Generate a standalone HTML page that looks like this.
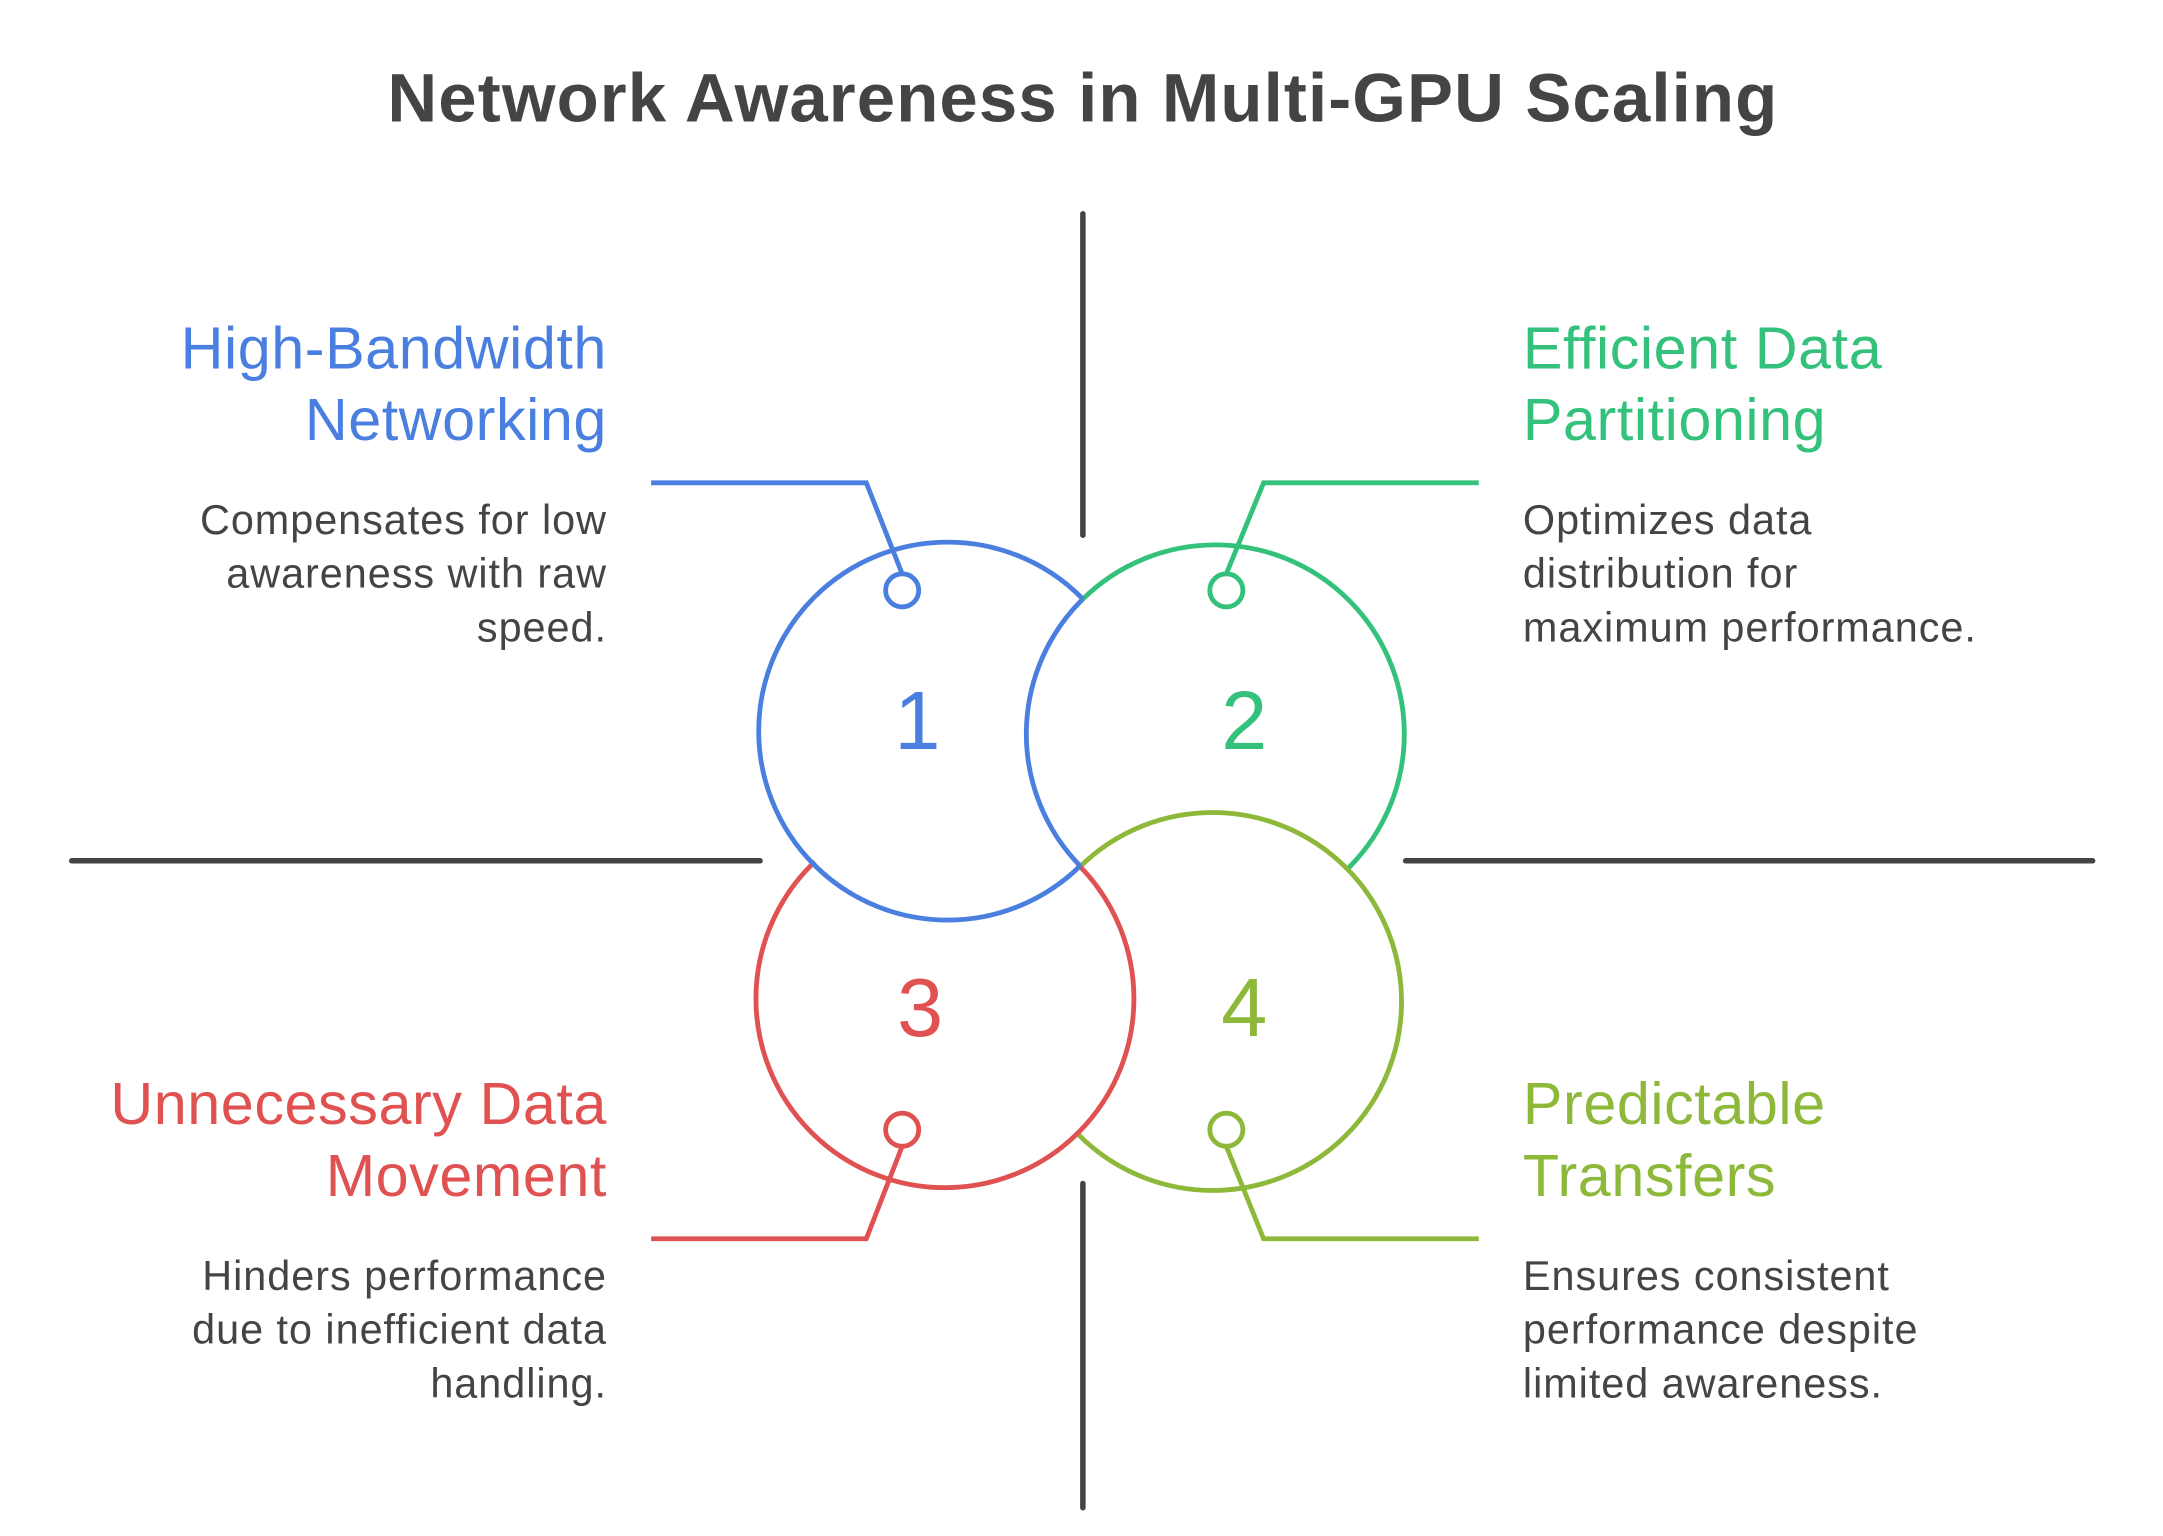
<!DOCTYPE html>
<html><head><meta charset="utf-8"><style>html,body{margin:0;padding:0;background:#fff}svg{display:block}</style></head>
<body>
<svg width="2163" height="1536" viewBox="0 0 1568 1113.5" xmlns="http://www.w3.org/2000/svg" font-family="'Liberation Sans', sans-serif">
<defs>
<clipPath id="in1"><circle cx="687" cy="530" r="137"/></clipPath>
<mask id="out2"><rect width="1568" height="1114" fill="#fff"/><circle cx="881" cy="532" r="137" fill="#000"/></mask>
</defs>
<rect width="1568" height="1114" fill="#fff"/>
<text x="785" y="88" text-anchor="middle" font-size="50" font-weight="bold" fill="#444" letter-spacing="0.8">Network Awareness in Multi-GPU Scaling</text>
<g stroke="#444" stroke-width="4" stroke-linecap="round">
<line x1="785" y1="155" x2="785" y2="388"/>
<line x1="785" y1="858" x2="785" y2="1093"/>
<line x1="52" y1="624" x2="551" y2="624"/>
<line x1="1019" y1="624" x2="1517" y2="624"/>
</g>
<g stroke-width="3.5">
<circle cx="881" cy="532" r="137" stroke="#33c17b" fill="#fff"/>
<circle cx="879" cy="726" r="137" stroke="#8db83a" fill="#fff"/>
<circle cx="685" cy="724" r="137" stroke="#e05252" fill="#fff"/>
<circle cx="687" cy="530" r="135" fill="#fff" stroke="none"/>
<circle cx="687" cy="530" r="137" stroke="#4a7fe0" fill="none" mask="url(#out2)"/>
<circle cx="881" cy="532" r="137" stroke="#4a7fe0" fill="none" clip-path="url(#in1)"/>
</g>
<g fill="none" stroke-width="3.5">
<polyline points="472,350 628,350 654,416" stroke="#4a7fe0"/>
<circle cx="654" cy="428" r="12" stroke="#4a7fe0" fill="#fff"/>
<polyline points="1072,350 916,350 889,416" stroke="#33c17b"/>
<circle cx="889" cy="428" r="12" stroke="#33c17b" fill="#fff"/>
<polyline points="472,898 628,898 654,831" stroke="#e05252"/>
<circle cx="654" cy="819" r="12" stroke="#e05252" fill="#fff"/>
<polyline points="1072,898 916,898 889,831" stroke="#8db83a"/>
<circle cx="889" cy="819" r="12" stroke="#8db83a" fill="#fff"/>
</g>
<g font-size="60" text-anchor="middle">
<text x="665" y="543" fill="#4a7fe0">1</text>
<text x="902" y="543" fill="#33c17b">2</text>
<text x="667" y="751" fill="#e05252">3</text>
<text x="902" y="751" fill="#8db83a">4</text>
</g>
<g font-size="43" letter-spacing="0.4">
<text x="440" y="267" text-anchor="end" fill="#4a7fe0">High-Bandwidth</text>
<text x="440" y="319" text-anchor="end" fill="#4a7fe0">Networking</text>
<text x="1104" y="267" fill="#33c17b">Efficient Data</text>
<text x="1104" y="319" fill="#33c17b">Partitioning</text>
<text x="440" y="815" text-anchor="end" fill="#e05252">Unnecessary Data</text>
<text x="440" y="867" text-anchor="end" fill="#e05252">Movement</text>
<text x="1104" y="815" fill="#8db83a">Predictable</text>
<text x="1104" y="867" fill="#8db83a">Transfers</text>
</g>
<g font-size="30" fill="#444" letter-spacing="0.7">
<text x="440" y="387" text-anchor="end">Compensates for low</text>
<text x="440" y="426" text-anchor="end">awareness with raw</text>
<text x="440" y="465" text-anchor="end">speed.</text>
<text x="1104" y="387">Optimizes data</text>
<text x="1104" y="426">distribution for</text>
<text x="1104" y="465">maximum performance.</text>
<text x="440" y="935" text-anchor="end">Hinders performance</text>
<text x="440" y="974" text-anchor="end">due to inefficient data</text>
<text x="440" y="1013" text-anchor="end">handling.</text>
<text x="1104" y="935">Ensures consistent</text>
<text x="1104" y="974">performance despite</text>
<text x="1104" y="1013">limited awareness.</text>
</g>
</svg>
</body></html>
